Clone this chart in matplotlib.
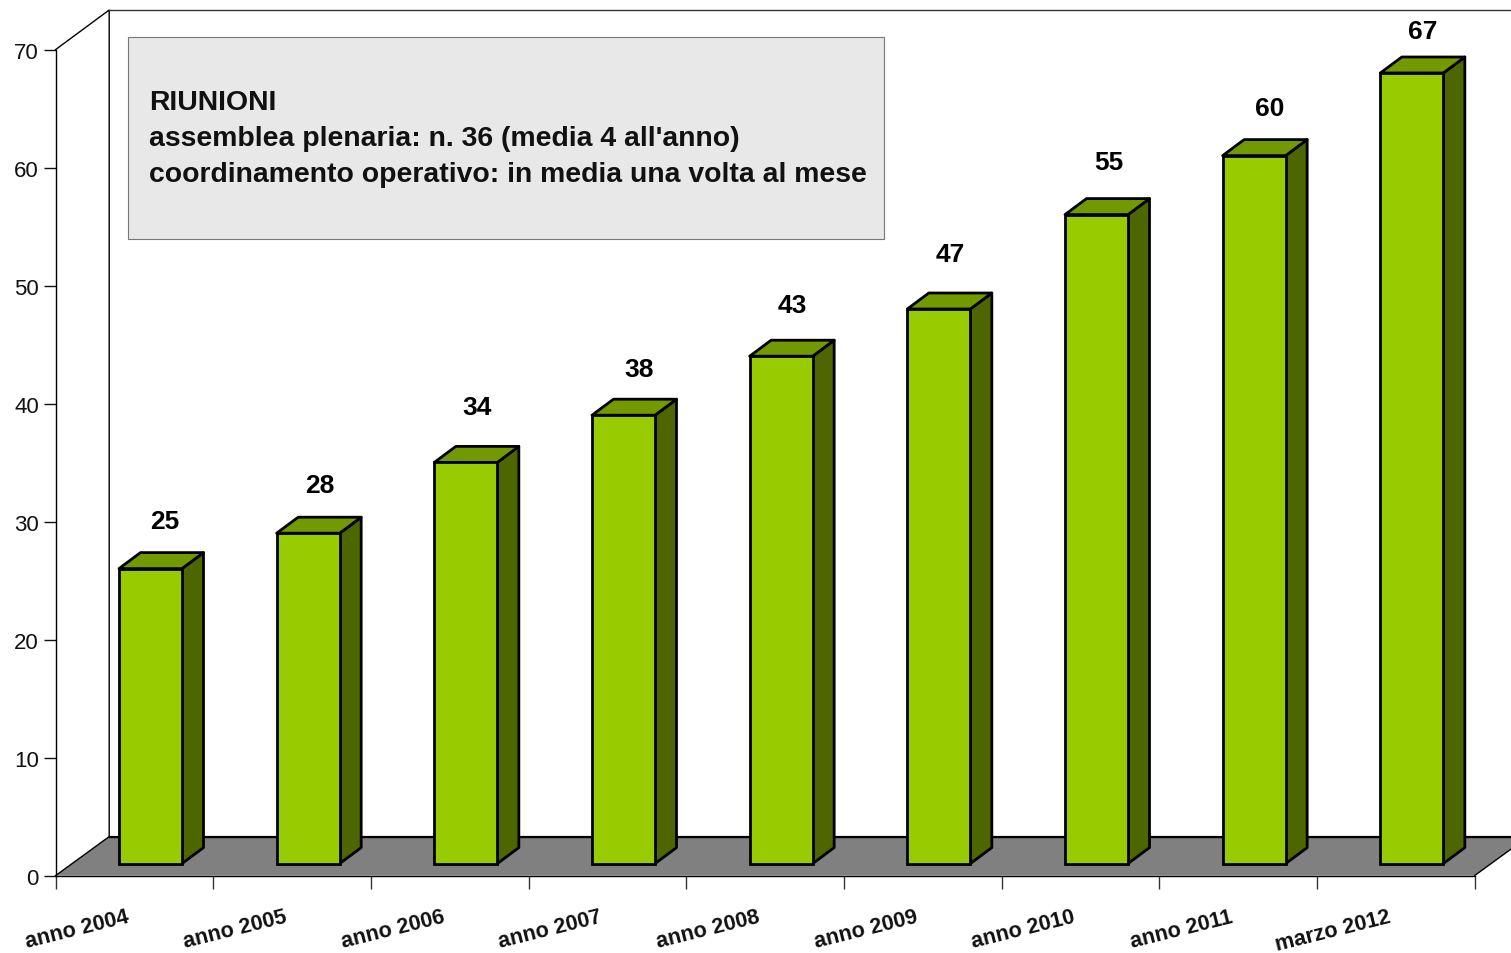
import matplotlib
matplotlib.use("Agg")
import matplotlib.pyplot as plt
from matplotlib.patches import Polygon, Rectangle

plt.rcParams['font.family'] = ['Liberation Sans', 'DejaVu Sans']

categories = ['anno 2004', 'anno 2005', 'anno 2006', 'anno 2007', 'anno 2008',
              'anno 2009', 'anno 2010', 'anno 2011', 'marzo 2012']
values = [25, 28, 34, 38, 43, 47, 55, 60, 67]
y_ticks = [0, 10, 20, 30, 40, 50, 60, 70]
box_lines = ["RIUNIONI",
             "assemblea plenaria: n. 36 (media 4 all'anno)",
             "coordinamento operativo: in media una volta al mese"]

W, H = 1511, 954
X0, X1, Y0, Y70 = 55.6, 1474.6, 876.6, 50.6
PX = 9 / (X1 - X0)        # data units per pixel, x
PY = 70 / (Y0 - Y70)      # data units per pixel, y

# hand placed value labels in the original, pixels from the bar's front top centre
label_dx = [14, 12, 11, 16, 11, 11, 12, 16, 11]
label_dy = [48, 48, 55, 46, 51, 55, 53, 48, 42]

FRONT = '#99cc00'
SIDE = '#4d6600'
TOP = '#739900'
FLOOR = '#808080'

fig = plt.figure(figsize=(W / 100, H / 100), dpi=100)
ax = fig.add_axes([X0 / W, 1 - Y0 / H, (X1 - X0) / W, (Y0 - Y70) / H])
ax.set_xlim(0, 9)
ax.set_ylim(0, 70)
ax.patch.set_visible(False)

# walls and floor of the fake 3d box
dx = 53.6 * PX
dy = 39 * PY
wall_top = 70 + 39.6 * PY
floor = Polygon([(0, 0), (dx, dy), (9 + dx, dy), (9, 0)], closed=True,
                facecolor=FLOOR, edgecolor='none', zorder=1, clip_on=False)
ax.add_patch(floor)
ax.plot([dx, 9 + dx], [dy, dy], color='black', lw=1, zorder=2, clip_on=False)
ax.plot([0, dx, dx, 9 + dx], [70, wall_top, dy, dy], color='black', lw=1, zorder=2, clip_on=False)
ax.plot([dx, 9 + dx], [wall_top, wall_top], color='#333333', lw=1, zorder=2, clip_on=False)
ax.plot([0, dx], [0, dy], color='black', lw=1, zorder=2, clip_on=False)
ax.plot([9, 9 + dx], [0, dy], color='black', lw=1, zorder=2, clip_on=False)

for s in ['top', 'right']:
    ax.spines[s].set_visible(False)
for s in ['left', 'bottom']:
    ax.spines[s].set_linewidth(1)
    ax.spines[s].set_zorder(3)

ax.set_yticks(y_ticks)
ax.set_xticks(range(0, 10))
ax.set_xticklabels([])
ax.tick_params(axis='y', length=9, width=1, labelsize=16, pad=3, colors='#111111')
ax.tick_params(axis='x', length=9.5, width=1, color='#333333')

# bars: front plane sits 16,12 px into the box, depth 21,16 px
bar_w = 63 * PX
base = 12 * PY
sx = 21.5 * PX
sy = 16 * PY
for i in range(len(values)):
    left = i + 63.4 * PX
    v = values[i]
    ax.bar(left, v, width=bar_w, bottom=base, align='edge', color=FRONT,
           edgecolor='black', linewidth=2, zorder=5)
    right = left + bar_w
    top = base + v
    ax.add_patch(Polygon([(right, base), (right + sx, base + sy), (right + sx, top + sy), (right, top)],
                         closed=True, facecolor=SIDE, edgecolor='black', linewidth=2,
                         joinstyle='round', zorder=4))
    ax.add_patch(Polygon([(left, top), (left + sx, top + sy), (right + sx, top + sy), (right, top)],
                         closed=True, facecolor=TOP, edgecolor='black', linewidth=2,
                         joinstyle='round', zorder=4))
    ax.text(left + bar_w / 2 + label_dx[i] * PX, top + label_dy[i] * PY, str(v),
            ha='center', va='center', fontsize=19, fontweight='bold', color='black', zorder=6)
    # labels are right aligned on a point just left of the category centre
    ax.annotate(categories[i], xy=(i + 0.5, 0), xytext=(-4, -29), textcoords='offset points',
                ha='right', va='center', rotation=14, rotation_mode='anchor',
                fontsize=15.6, fontweight='bold', color='#111111', annotation_clip=False)

# text box, placed on the figure in pixels
box = Rectangle((128 / W, 1 - 240 / H), 756 / W, 202 / H, transform=fig.transFigure,
                facecolor='#e8e8e8', edgecolor='#777777', linewidth=0.8, zorder=7)
fig.add_artist(box)
for i in range(len(box_lines)):
    fig.text(149 / W, 1 - (103 + 36 * i) / H, box_lines[i], ha='left', va='center', fontsize=20.4,
             fontweight='bold', color='#111111', zorder=8)

fig.savefig('out.png', dpi=100)
